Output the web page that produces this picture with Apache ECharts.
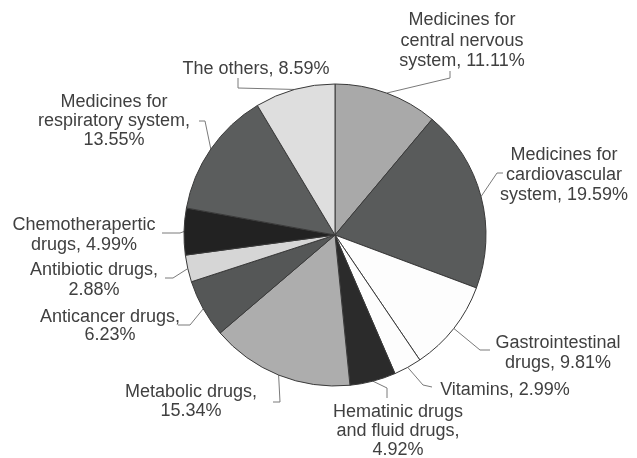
<!DOCTYPE html>
<html>
<head>
<meta charset="utf-8">
<script src="https://cdn.jsdelivr.net/npm/echarts@6/dist/echarts.min.js"></script>
<style>
html,body{margin:0;padding:0;background:#fff;}
#c{width:637px;height:458px;}
</style>
</head>
<body>
<div id="c"></div>
<script>
// ---- data ----
const categories = [
  'Medicines for\ncentral nervous\nsystem',
  'Medicines for\ncardiovascular\nsystem',
  'Gastrointestinal\ndrugs',
  'Vitamins',
  'Hematinic drugs\nand fluid drugs',
  'Metabolic drugs',
  'Anticancer drugs',
  'Antibiotic drugs',
  'Chemotherapertic\ndrugs',
  'Medicines for\nrespiratory system',
  'The others'
];
const values = [11.11, 19.59, 9.81, 2.99, 4.92, 15.34, 6.23, 2.88, 4.99, 13.55, 8.59];
// whether the percentage goes on its own line
const valueOnNewLine = [false, false, false, false, true, true, true, true, false, true, false];

// ---- styling / layout (not data) ----
const colors = ['#a9a9a9', '#595b5b', '#fdfdfd', '#fdfdfd', '#2b2b2b', '#adadad',
                '#555757', '#d6d6d6', '#222222', '#5b5d5d', '#dedede'];
// label block centres and leader-line elbow/end points
const labelCenters = [[462,41],[564,175],[558,353],[505,390],[398,431],[191,402],
                      [110,326],[94,280],[84,235],[114,121],[256,69]];
const labelElbows = [
  [[450,78],[450,71]],
  [[497,173],[503,173]],
  [[480,350],[490,350]],
  [[423,385],[432,387]],
  [[387,388],[387,398]],
  [[280,402],[273,402]],
  [[190,325],[178,325]],
  [[173,278],[165,278]],
  [[180,233],[162,233]],
  [[205,121],[199,121]],
  [[238,88],[238,78]]
];
const lineHeights = [20.5,20,20,20,19,19,18,20,20,19,20];

const seriesData = categories.map((n, i) => ({
  name: n,
  value: values[i],
  itemStyle: { color: colors[i] },
  label: { lineHeight: lineHeights[i] }
}));

const chart = echarts.init(document.getElementById('c'), null, {renderer: 'canvas'});
chart.setOption({
  backgroundColor: '#ffffff',
  animation: false,
  series: [{
    type: 'pie',
    center: [335, 235],
    radius: 151,
    startAngle: 90,
    clockwise: true,
    avoidLabelOverlap: false,
    minShowLabelAngle: 0,
    data: seriesData,
    itemStyle: { borderColor: '#3a3a3a', borderWidth: 1 },
    label: {
      show: true,
      position: 'outside',
      fontFamily: 'Liberation Sans, Arial, sans-serif',
      fontSize: 18,
      color: '#404040',
      align: 'center',
      formatter: p => p.name + (valueOnNewLine[p.dataIndex] ? ',\n' : ', ') + values[p.dataIndex].toFixed(2) + '%'
    },
    labelLine: {
      show: true,
      length: 10,
      length2: 10,
      smooth: false,
      lineStyle: { color: '#7a7a7a', width: 1 }
    },
    labelLayout: function (params) {
      const i = params.dataIndex;
      const start = params.labelLinePoints ? params.labelLinePoints[0] : labelElbows[i][0];
      return {
        x: labelCenters[i][0],
        y: labelCenters[i][1],
        align: 'center',
        verticalAlign: 'middle',
        labelLinePoints: [start, labelElbows[i][0], labelElbows[i][1]]
      };
    }
  }]
});
</script>
</body>
</html>
